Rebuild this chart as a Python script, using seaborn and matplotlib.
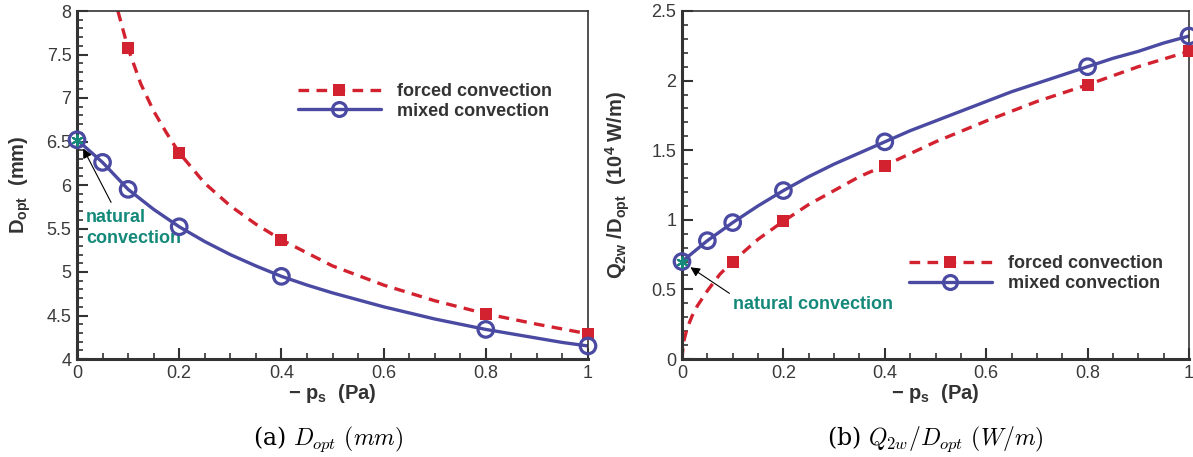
import numpy as np
import pandas as pd
import matplotlib
matplotlib.use("Agg")
import matplotlib.pyplot as plt
from matplotlib.lines import Line2D
from matplotlib.ticker import MultipleLocator, FuncFormatter
import seaborn as sns

sns.set_theme(style="white")
plt.rcParams['font.family'] = ['Liberation Sans', 'DejaVu Sans']
plt.rcParams['mathtext.fontset'] = 'custom'
plt.rcParams['mathtext.rm'] = 'Liberation Sans'
plt.rcParams['mathtext.bf'] = 'Liberation Sans:bold'
plt.rcParams['mathtext.it'] = 'Liberation Sans:italic'

# ---------------- data ----------------
# (a) D_opt (mm)
ps_mixed = [0.0, 0.05, 0.1, 0.2, 0.4, 0.8, 1.0]
d_mixed = [6.52, 6.26, 5.95, 5.52, 4.95, 4.34, 4.15]
ps_mixed_curve = [0.0, 0.05, 0.1, 0.15, 0.2, 0.25, 0.3, 0.35, 0.4, 0.45, 0.5, 0.55,
                  0.6, 0.65, 0.7, 0.75, 0.8, 0.85, 0.9, 0.95, 1.0]
d_mixed_curve = [6.52, 6.26, 5.95, 5.72, 5.52, 5.35, 5.20, 5.07, 4.95, 4.85, 4.76, 4.68,
                 4.60, 4.53, 4.46, 4.40, 4.34, 4.29, 4.24, 4.19, 4.15]

ps_forced = [0.1, 0.2, 0.4, 0.8, 1.0]
d_forced = [7.57, 6.37, 5.37, 4.52, 4.29]
ps_forced_curve = [0.08, 0.1, 0.125, 0.15, 0.175, 0.2, 0.25, 0.3, 0.35, 0.4, 0.5, 0.6,
                   0.7, 0.8, 0.9, 1.0]
d_forced_curve = [8.0, 7.57, 7.16, 6.85, 6.60, 6.37, 6.02, 5.76, 5.55, 5.37, 5.07, 4.85,
                  4.67, 4.52, 4.40, 4.29]

# (b) Q_2w / D_opt (10^4 W/m)
q_mixed = [0.70, 0.85, 0.98, 1.21, 1.56, 2.10, 2.32]
q_mixed_curve = [0.70, 0.85, 0.98, 1.10, 1.21, 1.31, 1.40, 1.48, 1.56, 1.64, 1.71, 1.78,
                 1.85, 1.92, 1.98, 2.04, 2.10, 2.16, 2.21, 2.27, 2.32]

q_forced = [0.70, 0.99, 1.39, 1.97, 2.21]
ps_qforced_curve = [0.0, 0.003, 0.01, 0.02, 0.03, 0.05, 0.075, 0.1, 0.15, 0.2, 0.25, 0.3,
                    0.35, 0.4, 0.5, 0.6, 0.7, 0.8, 0.9, 1.0]
q_forced_curve = [0.0, 0.12, 0.22, 0.31, 0.38, 0.49, 0.61, 0.70, 0.86, 0.99, 1.11, 1.21,
                  1.31, 1.39, 1.56, 1.71, 1.85, 1.97, 2.10, 2.21]

nat_ps = [0.0]
nat_d = [6.52]
nat_q = [0.70]

RED = '#d3222f'
BLUE = '#4a4aa3'
TEAL = '#14897a'
DARK = '#333333'

fig = plt.figure(figsize=(11.93, 4.57), dpi=100)
W, H = 1193, 457
axA = fig.add_axes([77 / W, 1 - 359 / H, (588 - 77) / W, (359 - 11) / H])
axB = fig.add_axes([682 / W, 1 - 359 / H, (1189 - 682) / W, (359 - 11) / H])

dash = (3.2, 2.2)


def draw(ax, xm, ym, xmc, ymc, xf, yf, xfc, yfc, yn):
    sns.lineplot(x=xfc, y=yfc, ax=ax, color=RED, lw=2.4,
                 linestyle=(0, dash), sort=False, estimator=None)
    sns.lineplot(x=xmc, y=ymc, ax=ax, color=BLUE, lw=2.4, sort=False, estimator=None)
    sns.scatterplot(x=xf, y=yf, ax=ax, marker='s', s=80, color=RED,
                    edgecolor=RED, linewidth=0, zorder=4, clip_on=False)
    sns.scatterplot(x=xm, y=ym, ax=ax, marker='o', s=125, facecolor='none',
                    edgecolor=BLUE, linewidth=2.3, zorder=5, clip_on=False)
    sns.scatterplot(x=nat_ps, y=yn, ax=ax, marker=(6, 2, 0), s=55, color=TEAL,
                    linewidth=1.5, zorder=6, clip_on=False)


draw(axA, ps_mixed, d_mixed, ps_mixed_curve, d_mixed_curve,
     ps_forced, d_forced, ps_forced_curve, d_forced_curve, nat_d)
draw(axB, ps_mixed, q_mixed, ps_mixed_curve, q_mixed_curve,
     ps_forced, q_forced, ps_qforced_curve, q_forced_curve, nat_q)


def style(ax, ylim, ymaj, ymin):
    ax.set_xlim(0, 1)
    ax.set_ylim(*ylim)
    ax.xaxis.set_major_locator(MultipleLocator(0.2))
    ax.xaxis.set_minor_locator(MultipleLocator(0.05))
    ax.yaxis.set_major_locator(MultipleLocator(ymaj))
    ax.yaxis.set_minor_locator(MultipleLocator(ymin))
    ax.xaxis.set_major_formatter(FuncFormatter(lambda v, p: f"{v:g}"))
    ax.yaxis.set_major_formatter(FuncFormatter(lambda v, p: f"{v:g}"))
    ax.tick_params(which='major', direction='in', length=8, width=1.5, color=DARK,
                   labelsize=13, labelcolor='#3a3a3a', pad=4, bottom=True, left=True,
                   top=False, right=False)
    ax.tick_params(which='minor', direction='in', length=4, width=1.2, color=DARK,
                   bottom=True, left=True, top=False, right=False)
    for s in ['left', 'bottom']:
        ax.spines[s].set_linewidth(2.2)
        ax.spines[s].set_color(DARK)
    for s in ['top', 'right']:
        ax.spines[s].set_linewidth(1.2)
        ax.spines[s].set_color(DARK)
    ax.set_xlabel(r"$\mathbf{-\ p}_{\mathbf{s}}$  (Pa)", fontsize=14.5, fontweight='bold',
                  color=DARK, labelpad=0)
    h = [Line2D([], [], color=RED, lw=2.4, linestyle=(0, dash), marker='s',
                markersize=8, markeredgewidth=0),
         Line2D([], [], color=BLUE, lw=2.4, marker='o', markersize=10,
                markerfacecolor='none', markeredgewidth=2.3)]
    return h


hA = style(axA, (4, 8), 0.5, 0.1)
hB = style(axB, (0, 2.5), 0.5, 0.1)

axA.set_ylabel(r"$\mathbf{D}_{\mathbf{opt}}$  (mm)", fontsize=14.5, fontweight='bold',
               color=DARK, labelpad=10)
axB.set_ylabel(r"$\mathbf{Q}_{\mathbf{2w}}$ /$\mathbf{D}_{\mathbf{opt}}$  (10$^{\mathbf{4}}$ W/m)",
               fontsize=14.5, fontweight='bold', color=DARK, labelpad=14)

labels = ['forced convection', 'mixed convection']
legA = axA.legend(hA, labels, loc='upper left', bbox_to_anchor=(0.4, 0.84), frameon=False,
                  fontsize=13, handlelength=4.6, handletextpad=0.9, labelspacing=0.15,
                  numpoints=1)
legB = axB.legend(hB, labels, loc='upper left', bbox_to_anchor=(0.415, 0.345), frameon=False,
                  fontsize=13, handlelength=4.6, handletextpad=0.9, labelspacing=0.15,
                  numpoints=1)
for leg in (legA, legB):
    for t in leg.get_texts():
        t.set_fontweight('bold')
        t.set_color(DARK)

axA.annotate("natural\nconvection", xy=(0.012, 6.42), xytext=(0.018, 5.72),
             fontsize=13, fontweight='bold', color=TEAL, ha='left', va='top',
             linespacing=1.25,
             arrowprops=dict(arrowstyle='-|>', color='black', lw=0.8,
                             mutation_scale=14, shrinkA=3, shrinkB=0,
                             relpos=(0.3, 1.0)))
axB.annotate("natural convection", xy=(0.012, 0.67), xytext=(0.1, 0.395),
             fontsize=13, fontweight='bold', color=TEAL, ha='left', va='center',
             arrowprops=dict(arrowstyle='-|>', color='black', lw=0.8,
                             mutation_scale=14, shrinkA=0, shrinkB=2,
                             relpos=(0.0, 1.0)))

fig.text(328 / W, 1 - 439 / H, r"(a) $D_{opt}$ $(mm)$", fontsize=17, ha='center',
         va='center', family='DejaVu Serif', math_fontfamily='cm', color='black')
fig.text(935 / W, 1 - 439 / H, r"(b) $Q_{2w}/D_{opt}$ $(W/m)$", fontsize=17, ha='center',
         va='center', family='DejaVu Serif', math_fontfamily='cm', color='black')

fig.savefig("out.png", dpi=100)
